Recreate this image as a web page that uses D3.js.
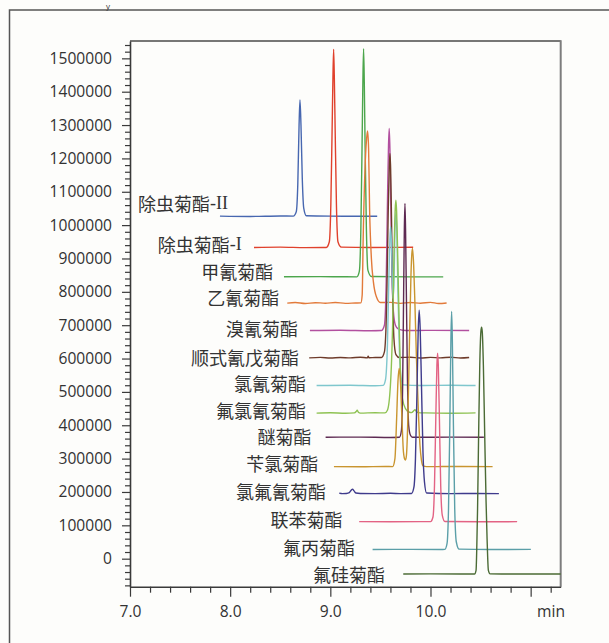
<!DOCTYPE html>
<html><head><meta charset="utf-8">
<script src="https://cdn.jsdelivr.net/npm/d3@7"></script>
<style>
html,body{margin:0;padding:0;background:#fdfdfb;}
svg{display:block;}
</style></head><body>
<svg id="chart" width="609" height="643"></svg>
<script>
// ---------------- DATA ----------------
const compoundNames = ["除虫菊酯-II","除虫菊酯-I","甲氰菊酯","乙氰菊酯","溴氰菊酯","顺式氰戊菊酯","氯氰菊酯",
  "氟氯氰菊酯","醚菊酯","苄氯菊酯","氯氟氰菊酯","联苯菊酯","氟丙菊酯","氟硅菊酯"];
const xMajorTicks = [7, 8, 9, 10, 11];
const xTickLabels = ["7.0", "8.0", "9.0", "10.0", ""];
const xUnitLabel = "min";
const yMajorTicks = [0,100000,200000,300000,400000,500000,600000,700000,800000,900000,1000000,1100000,1200000,1300000,1400000,1500000];

// each trace: [retention time (min), signal]
const trace01 = [[7.898,1027000],[8.2,1026000],[8.5,1027500],[8.63,1027000],[8.66,1040000],[8.675,1120000],[8.688,1300000],[8.697,1375000],[8.707,1300000],[8.72,1140000],[8.735,1050000],[8.76,1028000],[9.0,1027000],[9.468,1026500]];
const trace02 = [[8.238,933000],[8.5,934000],[8.75,932500],[8.96,933000],[8.99,950000],[9.005,1060000],[9.018,1290000],[9.026,1440000],[9.033,1527000],[9.040,1440000],[9.048,1290000],[9.061,1060000],[9.076,950000],[9.11,934000],[9.4,933000],[9.827,933500]];
const trace03 = [[8.537,845000],[8.9,845500],[9.265,845000],[9.29,862000],[9.305,990000],[9.317,1240000],[9.325,1430000],[9.332,1529000],[9.339,1430000],[9.347,1240000],[9.36,990000],[9.375,865000],[9.41,846000],[9.8,845000],[10.127,845000]];
const trace04 = [[8.57,766000],[8.65,768000],[8.75,765000],[8.85,767500],[8.95,766000],[9.05,768000],[9.15,765500],[9.25,766500],[9.305,767000],[9.318,790000],[9.328,960000],[9.352,1210000],[9.363,1262000],[9.372,1282000],[9.382,1230000],[9.392,1050000],[9.41,900000],[9.43,830000],[9.46,785000],[9.5,768000],[9.6,768500],[9.7,765500],[9.8,768000],[9.9,766000],[10.0,768500],[10.08,765000],[10.161,766500]];
const trace05 = [[8.796,684000],[9.1,685000],[9.4,683500],[9.51,684000],[9.54,700000],[9.558,830000],[9.572,1100000],[9.581,1240000],[9.588,1290000],[9.595,1230000],[9.604,1060000],[9.616,850000],[9.63,740000],[9.65,700000],[9.68,688000],[9.75,684000],[10.0,684500],[10.386,684000]];
const trace06 = [[8.789,602000],[8.9,603500],[9.0,601500],[9.1,603000],[9.2,602000],[9.3,604000],[9.37,602000],[9.378,607000],[9.386,602500],[9.45,603000],[9.51,603000],[9.54,620000],[9.562,760000],[9.578,1040000],[9.588,1170000],[9.595,1215000],[9.602,1170000],[9.611,1020000],[9.622,800000],[9.635,660000],[9.655,612000],[9.69,603000],[9.8,604000],[9.9,601500],[10.0,603500],[10.1,602000],[10.2,604000],[10.3,601500],[10.386,603000]];
const trace07 = [[8.863,519000],[9.2,520000],[9.45,518500],[9.528,519500],[9.55,535000],[9.57,640000],[9.585,850000],[9.595,960000],[9.602,995000],[9.612,930000],[9.625,780000],[9.635,820000],[9.645,980000],[9.655,1038000],[9.664,980000],[9.675,800000],[9.69,620000],[9.705,545000],[9.728,521000],[9.9,519000],[10.2,520000],[10.45,519000]];
const trace08 = [[8.863,436500],[9.0,437500],[9.15,436000],[9.24,437000],[9.258,441000],[9.268,445000],[9.28,439000],[9.3,436500],[9.45,437500],[9.545,437000],[9.57,445000],[9.6,520000],[9.622,700000],[9.637,930000],[9.648,1050000],[9.655,1075000],[9.662,1040000],[9.672,920000],[9.686,720000],[9.7,560000],[9.72,480000],[9.75,450000],[9.79,439000],[9.81,438000],[9.835,444000],[9.845,447000],[9.855,443000],[9.875,438000],[9.95,437000],[10.2,436000],[10.45,437000]];
const trace09 = [[8.953,364000],[9.3,364500],[9.6,363500],[9.69,364000],[9.71,385000],[9.722,520000],[9.732,800000],[9.739,990000],[9.745,1065000],[9.751,990000],[9.759,800000],[9.77,540000],[9.782,400000],[9.8,370000],[9.82,364000],[10.2,364500],[10.533,364000]];
const trace10 = [[9.036,276000],[9.3,275500],[9.55,276500],[9.622,276000],[9.645,300000],[9.662,420000],[9.675,530000],[9.688,571000],[9.7,530000],[9.715,420000],[9.73,320000],[9.745,297000],[9.751,296000],[9.76,310000],[9.775,430000],[9.79,650000],[9.805,850000],[9.814,915000],[9.821,930000],[9.832,880000],[9.845,760000],[9.86,600000],[9.878,450000],[9.895,340000],[9.91,295000],[9.927,278000],[9.96,276000],[10.3,276500],[10.62,276000]];
const trace11 = [[9.089,196500],[9.12,195000],[9.16,195500],[9.19,198000],[9.21,206000],[9.222,208500],[9.235,204000],[9.255,197000],[9.3,195500],[9.45,195000],[9.6,196000],[9.7,195000],[9.811,195500],[9.835,215000],[9.85,300000],[9.865,500000],[9.877,680000],[9.887,745000],[9.897,690000],[9.91,520000],[9.925,320000],[9.94,230000],[9.961,197000],[10.2,195000],[10.45,195500],[10.683,195000]];
const trace12 = [[9.288,111000],[9.6,110500],[9.9,111000],[10.0,111000],[10.025,125000],[10.04,220000],[10.053,420000],[10.064,580000],[10.071,615700],[10.078,580000],[10.089,420000],[10.102,220000],[10.118,130000],[10.144,111500],[10.5,110500],[10.865,111000]];
const trace13 = [[9.422,27600],[9.8,28000],[10.1,27500],[10.144,28000],[10.165,45000],[10.18,150000],[10.193,400000],[10.204,660000],[10.211,741000],[10.218,660000],[10.229,400000],[10.242,150000],[10.258,50000],[10.286,28500],[10.6,27500],[11.002,27800]];
const trace14 = [[9.728,-45900],[10.0,-45500],[10.3,-46000],[10.44,-45900],[10.455,-35000],[10.462,30000],[10.47,150000],[10.48,360000],[10.492,580000],[10.503,680000],[10.51,693700],[10.517,680000],[10.528,580000],[10.542,360000],[10.555,170000],[10.565,60000],[10.578,-35000],[10.595,-45500],[10.9,-45900],[11.3,-45800]];
const traces = [trace01,trace02,trace03,trace04,trace05,trace06,trace07,trace08,trace09,trace10,trace11,trace12,trace13,trace14];

// ---------------- STYLE / LAYOUT ----------------
const traceColors = ["#4767b0","#e0412c","#4ca64c","#e27a3a","#b2509f","#6e3b2a","#7fc7cd","#8ec252","#5e2a52","#c9952f","#3f3b8c","#e36384","#5b9fa8","#4b6b35"];
const labelGap  = [-8, 12.3, 10.7, 8, 12, 10.3, 10.7, 10.7, 14, 15.7, 13.3, 16.6, 17.7, 18.3];
const labelRise = [13, 3.3, 6, 5.7, 2.5, 1.3, 2.2, 3, 1.3, 3.4, 1.8, 2.4, 2.2, 0];
const plot = {left:130, top:41, right:560.7, bottom:586.7};
const tickFont = "'Open Sans', sans-serif";
const cjkFont = "'Noto Sans CJK SC', sans-serif";
const latinFont = "'Liberation Serif', serif";
const inkColor = "#333";

const svg = d3.select("#chart");
const x = d3.scaleLinear().domain([7, 11.3]).range([plot.left, plot.right]);
const y = d3.scaleLinear().domain([-84000, 1552000]).range([plot.bottom, plot.top]);

// outer frame
svg.append("path").attr("d", `M9.5,643 L9.5,10 L609,10`).attr("fill","none").attr("stroke","#555").attr("stroke-width",1.5);
// title remnant above the frame
svg.append("text").attr("x",106).attr("y",9).attr("font-family",tickFont).attr("font-size",8).attr("fill",inkColor).text("y");

// frame top & right
svg.append("line").attr("x1",plot.left).attr("x2",plot.right).attr("y1",plot.top).attr("y2",plot.top).attr("stroke","#4a4a4a").attr("stroke-width",1.6);
svg.append("line").attr("x1",plot.right).attr("x2",plot.right).attr("y1",plot.top-0.8).attr("y2",plot.bottom).attr("stroke","#7d7d7d").attr("stroke-width",2);

// clip
svg.append("clipPath").attr("id","clip").append("rect").attr("x",plot.left).attr("y",plot.top).attr("width",plot.right-plot.left+1).attr("height",plot.bottom-plot.top);

// minor ticks
const yMinor = d3.range(-80000, 1552000, 20000).filter(v => v % 100000 !== 0);
const xMinor = d3.range(7.2, 11.3, 0.2).map(v => +v.toFixed(1)).filter(v => Math.abs(v - Math.round(v)) > 1e-6);

const yMinorAxis = svg.append("g").attr("transform",`translate(${plot.left},0)`)
  .call(d3.axisLeft(y).tickValues(yMinor).tickSize(5).tickFormat(""));
yMinorAxis.select(".domain").remove();
const xMinorAxis = svg.append("g").attr("transform",`translate(0,${plot.bottom})`)
  .call(d3.axisBottom(x).tickValues(xMinor).tickSize(6).tickFormat(""));
xMinorAxis.select(".domain").remove();

const yAxis = svg.append("g").attr("transform",`translate(${plot.left},0)`)
  .call(d3.axisLeft(y).tickValues(yMajorTicks).tickSize(8).tickSizeOuter(0).tickPadding(10).tickFormat(d3.format("d")));
const xAxis = svg.append("g").attr("transform",`translate(0,${plot.bottom})`)
  .call(d3.axisBottom(x).tickValues(xMajorTicks).tickSize(10).tickSizeOuter(0).tickPadding(9)
    .tickFormat((d,i) => xTickLabels[i]));

[yAxis, xAxis, yMinorAxis, xMinorAxis].forEach(g => {
  g.selectAll("line").attr("stroke","#3a3a3a").attr("stroke-width",1.2);
  g.selectAll("text").attr("font-family",tickFont).attr("font-size",15.6).attr("fill",inkColor);
});
yAxis.select(".domain").attr("stroke","#3a3a3a").attr("stroke-width",1.6);
xAxis.select(".domain").attr("stroke","#3a3a3a").attr("stroke-width",1.6);

svg.append("text").attr("x",551).attr("y",plot.bottom+10+9).attr("dy","0.71em")
  .attr("text-anchor","middle").attr("font-family",tickFont).attr("font-size",15.6).attr("fill",inkColor).text(xUnitLabel);

// traces
const line = d3.line().x(d => x(d[0])).y(d => y(d[1])).curve(d3.curveMonotoneX);
const tg = svg.append("g").attr("clip-path","url(#clip)");
traces.forEach((tr, i) => {
  tg.append("path").datum(tr).attr("d", line).attr("fill","none")
    .attr("stroke", traceColors[i]).attr("stroke-width",1.4).attr("stroke-linejoin","round");
});

// labels
compoundNames.forEach((name, i) => {
  const tr = traces[i];
  const lx = x(tr[0][0]) - labelGap[i];
  const ly = y(tr[0][1]) - labelRise[i];
  const m = name.match(/^(.*?)(-I+)$/);
  const t = svg.append("text").attr("x", lx).attr("y", ly).attr("text-anchor","end")
    .attr("dominant-baseline","central").attr("font-size",18).attr("fill",inkColor);
  if (m) {
    t.append("tspan").attr("font-family",cjkFont).text(m[1]);
    t.append("tspan").attr("font-family",latinFont).text(m[2]);
  } else {
    t.attr("font-family",cjkFont).text(name);
  }
});
</script>
</body></html>
